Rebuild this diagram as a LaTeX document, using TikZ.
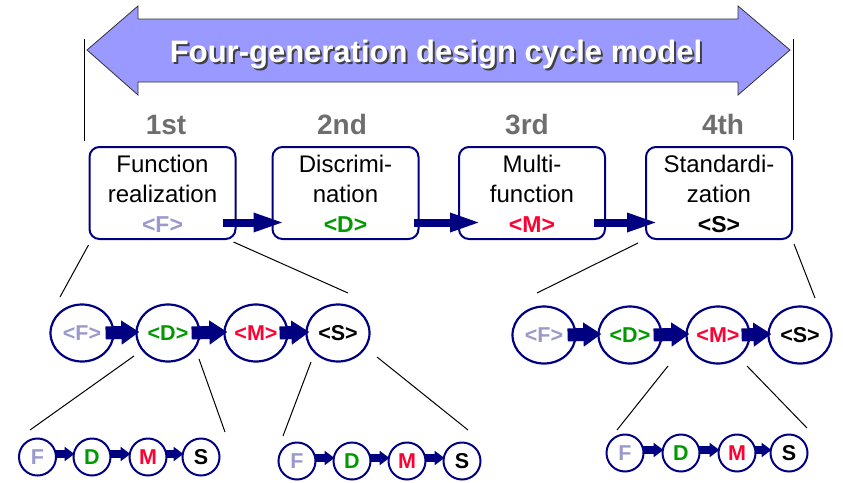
\documentclass[tikz,border=0pt]{standalone}
\usepackage{fontspec}
\setmainfont{Liberation Sans}
\usetikzlibrary{arrows.meta,shapes.geometric,calc}
\definecolor{navy}{HTML}{000080}
\definecolor{bandblue}{HTML}{9999FF}
\definecolor{gengray}{HTML}{6E6E6E}
\definecolor{fcol}{HTML}{9999CC}
\definecolor{dcol}{HTML}{009900}
\definecolor{mcol}{HTML}{FF0033}
% white text with a dark drop shadow, set as one box
\newcommand{\shadowed}[1]{\makebox[0pt][l]{\hspace{2pt}\raisebox{-2pt}{\color{black!75}#1}}#1}
\begin{document}
\begin{tikzpicture}[x=1pt,y=-1pt,
  band/.style={draw=black!80, line width=0.8pt, fill=bandblue},
  bandtext/.style={font=\fontsize{31}{34}\selectfont\bfseries, text=white, inner sep=0, anchor=base},
  genlabel/.style={font=\fontsize{28}{30}\selectfont\bfseries, text=gengray, inner sep=0, anchor=base},
  genbox/.style={draw=navy, line width=2pt, rounded corners=10pt, minimum width=146pt, minimum height=92pt, inner sep=0},
  boxtext/.style={align=center, font=\fontsize{24}{30}\selectfont, inner sep=0, anchor=north},
  phase/.style={draw=navy, line width=2.2pt, ellipse, minimum width=63pt, minimum height=57pt, inner sep=0, font=\fontsize{21.5}{24}\selectfont\bfseries},
  stage/.style={draw=navy, line width=2pt, circle, minimum size=37pt, inner sep=0, font=\fontsize{21.5}{24}\selectfont\bfseries},
  flowarrow/.style={draw=navy, line width=8pt, -{Triangle[length=32pt,width=17pt]}},
  midarrow/.style={draw=navy, line width=13pt, -{Triangle[length=18pt,width=23pt]}},
  smallarrow/.style={draw=navy, line width=8pt, -{Triangle[length=10pt,width=14pt]}},
  zoomline/.style={draw=black, line width=1pt},
  span/.style={draw=black, line width=1pt}
]
\useasboundingbox (0,0) rectangle (843,482);

% double-headed band with the title
\path[band] (87,50) -- (138,6) -- (138,19) -- (738,19) -- (738,6) -- (790,50)
  -- (738,95) -- (738,82) -- (138,82) -- (138,95) -- cycle;
\draw[span] (84,39) -- (84,141);
\draw[span] (793,39) -- (793,140);
\node[bandtext] (title) at (436,62) {\shadowed{Four-generation design cycle model}};

% generation labels
\node[genlabel] (g1) at (166,134) {1st};
\node[genlabel] (g2) at (342,134) {2nd};
\node[genlabel] (g3) at (527,134) {3rd};
\node[genlabel] (g4) at (723,134) {4th};

% generation boxes
\node[genbox] (b1) at (162.5,193) {};
\node[genbox] (b2) at (345.5,193) {};
\node[genbox] (b3) at (532,193) {};
\node[genbox] (b4) at (719,193) {};
\node[boxtext] (t1) at ([shift={(0,9)}]b1.north) {Function\\realization\\{\fontsize{23}{30}\selectfont\bfseries\color{fcol}<F>}};
\node[boxtext] (t2) at ([shift={(0,9)}]b2.north) {Discrimi-\\nation\\{\fontsize{23}{30}\selectfont\bfseries\color{dcol}<D>}};
\node[boxtext] (t3) at ([shift={(0,9)}]b3.north) {Multi-\\function\\{\fontsize{23}{30}\selectfont\bfseries\color{mcol}<M>}};
\node[boxtext] (t4) at ([shift={(0,9)}]b4.north) {Standardi-\\zation\\{\fontsize{23}{30}\selectfont\bfseries <S>}};
\draw[flowarrow] ([shift={(-14,29.5)}]b1.east) -- ([shift={(14,29.5)}]b2.west);
\draw[flowarrow] ([shift={(-6,29.5)}]b2.east) -- ([shift={(24,29.5)}]b3.west);
\draw[flowarrow] ([shift={(-12,29.5)}]b3.east) -- ([shift={(14,29.5)}]b4.west);

% middle rows of phases
\node[phase, text=fcol] (mL1) at (82,333) {<F>};
\node[phase, text=dcol] (mL2) at (168,333) {<D>};
\node[phase, text=mcol] (mL3) at (256,333) {<M>};
\node[phase, text=black] (mL4) at (338,333) {<S>};
\node[phase, text=fcol] (mR1) at (544,335) {<F>};
\node[phase, text=dcol] (mR2) at (630,335) {<D>};
\node[phase, text=mcol] (mR3) at (718,335) {<M>};
\node[phase, text=black] (mR4) at (800,335) {<S>};
\foreach \a/\b in {mL1/mL2, mL2/mL3, mL3/mL4, mR1/mR2, mR2/mR3, mR3/mR4}
  \draw[midarrow] ([shift={(-9,0)}]\a.east) -- ([shift={(4,-1)}]\b.west);

% bottom rows of stages
\node[stage, text=fcol] (sA1) at (37.5,457) {F};
\node[stage, text=dcol] (sA2) at (92,457) {D};
\node[stage, text=mcol] (sA3) at (148,457) {M};
\node[stage, text=black] (sA4) at (201,457) {S};
\node[stage, text=fcol] (sB1) at (297,461) {F};
\node[stage, text=dcol] (sB2) at (352,461) {D};
\node[stage, text=mcol] (sB3) at (407,461) {M};
\node[stage, text=black] (sB4) at (462,461) {S};
\node[stage, text=fcol] (sC1) at (625,453) {F};
\node[stage, text=dcol] (sC2) at (681,453) {D};
\node[stage, text=mcol] (sC3) at (737,453) {M};
\node[stage, text=black] (sC4) at (789,453) {S};
\foreach \a/\b in {sA1/sA2, sA2/sA3, sA3/sA4, sB1/sB2, sB2/sB3, sB3/sB4, sC1/sC2, sC2/sC3, sC3/sC4}
  \draw[smallarrow] ([shift={(-2,-3)}]\a.east) -- ([shift={(2,-3)}]\b.west);

% expansion lines
\coordinate (zA) at (60,297);
\coordinate (zB) at (348,293);
\coordinate (zC) at (537,293);
\coordinate (zD) at (815,298);
\coordinate (zE) at (30,430);
\coordinate (zF) at (225,432);
\coordinate (zG) at (283,436);
\coordinate (zH) at (468,430);
\coordinate (zI) at (617,430);
\coordinate (zJ) at (807,428);
\draw[zoomline] ([shift={(0,5)}]b1.south west) -- (zA);
\draw[zoomline] ([shift={(-3,2)}]b1.south east) -- (zB);
\draw[zoomline] ([shift={(-7,3)}]b4.south west) -- (zC);
\draw[zoomline] ([shift={(1,4)}]b4.south east) -- (zD);
\draw[zoomline] ([shift={(-34,23)}]mL2.center) -- (zE);
\draw[zoomline] ([shift={(31,26)}]mL2.center) -- (zF);
\draw[zoomline] ([shift={(-27,29)}]mL4.center) -- (zG);
\draw[zoomline] ([shift={(39,24)}]mL4.center) -- (zH);
\draw[zoomline] ([shift={(-50,31)}]mR3.center) -- (zI);
\draw[zoomline] ([shift={(29,31)}]mR3.center) -- (zJ);
\end{tikzpicture}
\end{document}
